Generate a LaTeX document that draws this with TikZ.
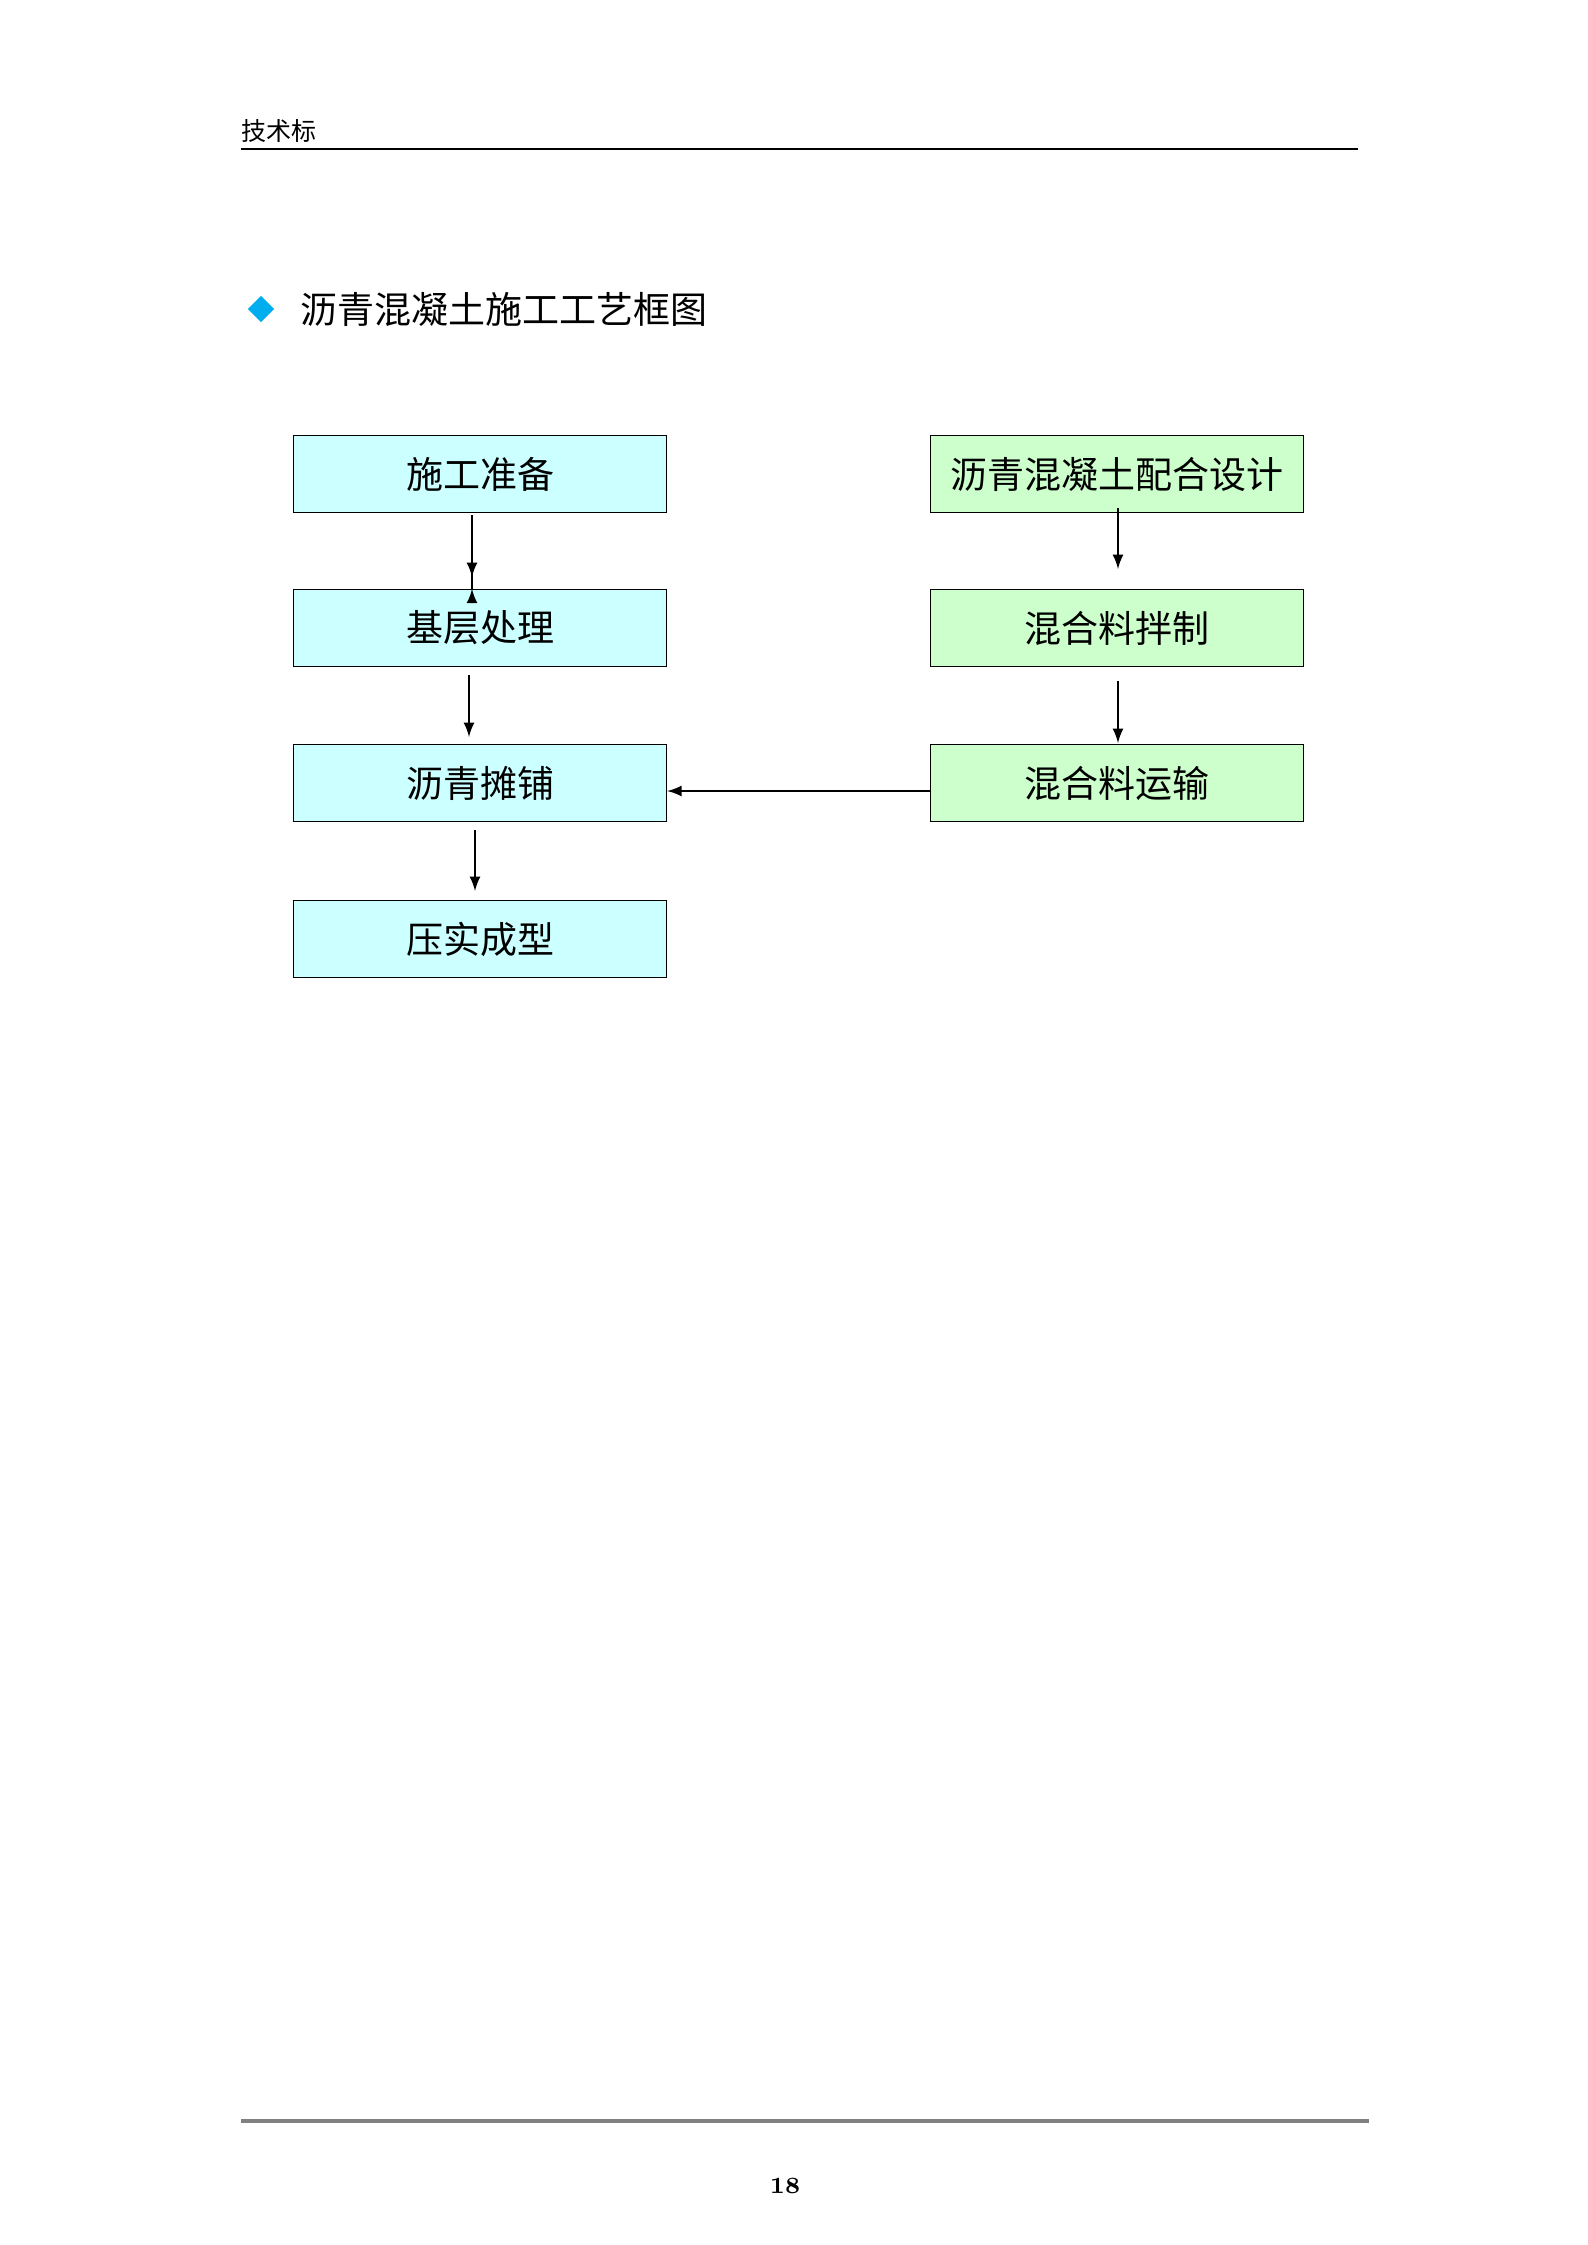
\documentclass[tikz,border=0pt]{standalone}
\usepackage{fontspec}
\usetikzlibrary{shapes.geometric}
\newfontfamily\cjk{Noto Sans CJK SC}
\definecolor{lc}{HTML}{CCFFFF}
\definecolor{rc}{HTML}{CCFFCC}
\begin{document}
\begin{tikzpicture}[x=0.3pt,y=-0.3pt,
  lbox/.style={draw=black,line width=0.4pt,fill=lc,minimum width=111.9pt,minimum height=23.1pt,inner sep=0pt,font=\cjk\fontsize{11.1}{13}\selectfont},
  rbox/.style={lbox,fill=rc},
  arr/.style={-latex,line width=0.5pt}]
\useasboundingbox (0,0) rectangle (1587,2245);
\node[anchor=west,inner sep=0pt,font=\cjk\fontsize{7.5}{8}\selectfont] (hd) at (241,131) {技术标};
\draw[line width=0.6pt] (241,149) -- (1358,149);
\node[fill=cyan,diamond,inner sep=0pt,minimum size=8pt,shape aspect=1] (dm) at (261,309) {};
\node[anchor=west,inner sep=0pt,font=\cjk\fontsize{11.1}{13}\selectfont] (title) at (300,309) {沥青混凝土施工工艺框图};
\node[lbox] (a) at (480,474) {施工准备};
\node[lbox] (b) at (480,628) {基层处理};
\node[lbox] (c) at (480,783) {沥青摊铺};
\node[lbox] (d) at (480,939) {压实成型};
\node[rbox] (e) at (1117,474) {沥青混凝土配合设计};
\node[rbox] (f) at (1117,628) {混合料拌制};
\node[rbox] (g) at (1117,783) {混合料运输};
\draw[arr] (a.south -| 472,0) ++(0,3) -- (b.north -| 472,0) ++(0,0);
\draw[arr] (472,515) -- (472,577);
\draw[arr] (469,675) -- (469,737);
\draw[arr] (475,830) -- (475,891);
\draw[arr] (1118,508) -- (1118,569);
\draw[arr] (1118,681) -- (1118,743);
\draw[arr] (g.west |- 0,791) -- (c.east |- 0,791);
\draw[gray,line width=1.2pt] (241,2121) -- (1369,2121);
\node[font=\bfseries\fontsize{7}{8}\selectfont] (pg) at (785,2186) {18};
\end{tikzpicture}
\end{document}
